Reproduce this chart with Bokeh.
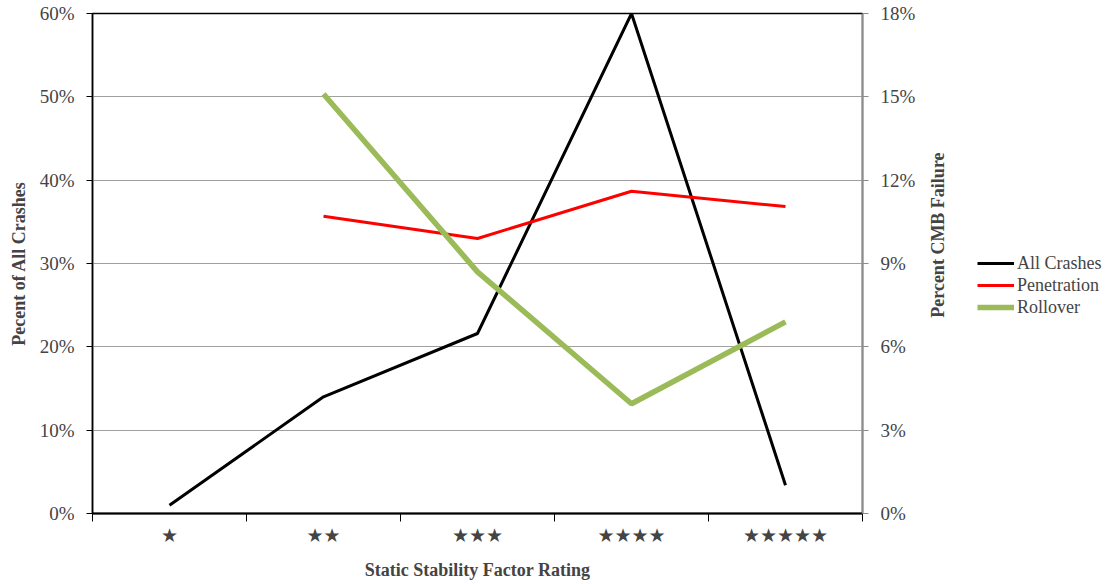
import math
import numpy as np
from bokeh.plotting import figure
from bokeh.layouts import row
from bokeh.models import (Range1d, LinearAxis, FixedTicker, PrintfTickFormatter,
                          Legend, LegendItem, Label)
from bokeh.embed import file_html
from bokeh.resources import INLINE

categories = ["★", "★★", "★★★", "★★★★", "★★★★★"]
all_crashes = [1.0, 14.0, 21.6, 60.0, 3.4]
penetration = [np.nan, 10.7, 9.9, 11.6, 11.05]
rollover = [np.nan, 15.1, 8.7, 3.95, 6.9]
left_ticks = [0, 10, 20, 30, 40, 50, 60]
right_ticks = [0, 3, 6, 9, 12, 15, 18]
series_names = ["All Crashes", "Penetration", "Rollover"]
series_colors = ["black", "#ff0000", "#9bbb59"]
series_widths = [3, 3, 5.5]

x = list(range(1, len(categories) + 1))
FONT = "Liberation Serif"

p = figure(output_backend="svg", toolbar_location=None,
           x_range=Range1d(0.5, len(categories) + 0.5), y_range=Range1d(0, 60),
           frame_width=770, frame_height=500,
           min_border_left=92, min_border_top=13, min_border_right=56, min_border_bottom=5)
p.extra_y_ranges = {"right": Range1d(0, 18)}
p.outline_line_color = "black"
p.outline_line_width = 1.5
p.background_fill_color = "white"
p.border_fill_color = "white"

# x axis
xa = p.xaxis[0]
xa.ticker = FixedTicker(ticks=x, minor_ticks=[i + 0.5 for i in range(0, len(categories) + 1)])
xa.major_label_overrides = {i + 1: c for i, c in enumerate(categories)}
xa.major_tick_line_color = None
xa.major_tick_out = 0
xa.major_tick_in = 0
xa.minor_tick_line_color = "black"
xa.minor_tick_out = 8
xa.minor_tick_in = 0
xa.minor_tick_line_width = 1
xa.axis_line_color = "black"
xa.axis_line_width = 2
xa.major_label_text_font = "DejaVu Sans"
xa.major_label_text_font_size = "19px"
xa.major_label_standoff = 2
xa.axis_label = "Static Stability Factor Rating"
xa.axis_label_text_font = FONT
xa.axis_label_text_font_style = "bold"
xa.axis_label_text_font_size = "18px"
xa.axis_label_standoff = 11

# left axis
ya = p.yaxis[0]
ya.ticker = FixedTicker(ticks=left_ticks)
ya.formatter = PrintfTickFormatter(format="%d%%")
ya.major_tick_out = 6
ya.major_tick_in = 0
ya.minor_tick_line_color = None
ya.axis_line_color = "black"
ya.axis_line_width = 1.5
ya.major_tick_line_color = "black"
ya.major_label_text_font = FONT
ya.major_label_text_font_size = "19px"
ya.major_label_standoff = 12
ya.axis_label = "Pecent of All Crashes"
ya.axis_label_text_font = FONT
ya.axis_label_text_font_style = "bold"
ya.axis_label_text_font_size = "18px"
ya.axis_label_standoff = 8

# right axis (its title is drawn in the side figure so it reads bottom-to-top)
ra = LinearAxis(y_range_name="right", ticker=FixedTicker(ticks=right_ticks),
                formatter=PrintfTickFormatter(format="%d%%"))
ra.major_tick_out = 6
ra.major_tick_in = 0
ra.minor_tick_line_color = None
ra.axis_line_color = "#8c8c8c"
ra.axis_line_width = 1.5
ra.major_tick_line_color = "#8c8c8c"
ra.major_label_text_font = FONT
ra.major_label_text_font_size = "19px"
ra.major_label_standoff = 12
p.add_layout(ra, "right")

p.xgrid.grid_line_color = None
p.ygrid.grid_line_color = "#a0a0a0"
p.ygrid.grid_line_width = 1.2
p.ygrid.ticker = FixedTicker(ticks=left_ticks)

p.line(x, all_crashes, line_color=series_colors[0], line_width=series_widths[0])
p.line(x, penetration, line_color=series_colors[1], line_width=series_widths[1], y_range_name="right")
p.line(x, rollover, line_color=series_colors[2], line_width=series_widths[2], y_range_name="right")

# side figure: right-axis title and legend
p2 = figure(width=201, height=568, output_backend="svg", toolbar_location=None,
            x_range=Range1d(0, 201), y_range=Range1d(0, 568),
            x_axis_location=None, y_axis_location=None,
            min_border_left=0, min_border_right=0, min_border_top=0, min_border_bottom=0)
p2.outline_line_color = None
p2.grid.visible = False
p2.background_fill_color = "white"
p2.border_fill_color = "white"
p2.extra_y_ranges = {"off": Range1d(1000, 1001)}

title_r = Label(x=19, y=309, text="Percent CMB Failure", angle=math.pi / 2,
                text_align="center", text_baseline="middle",
                text_font=FONT, text_font_style="bold", text_font_size="18px")
p2.add_layout(title_r)

leg_renderers = []
for ys, c, w in zip([all_crashes, penetration, rollover], series_colors, series_widths):
    leg_renderers.append(p2.line(x, ys, line_color=c, line_width=w, y_range_name="off"))

legend = Legend(items=[LegendItem(label=n, renderers=[r]) for n, r in zip(series_names, leg_renderers)],
                location=(59, 181), orientation="vertical",
                padding=0, margin=0, spacing=0,
                glyph_width=37, glyph_height=22, label_height=22,
                label_standoff=3, border_line_color=None,
                background_fill_alpha=0,
                label_text_font=FONT, label_text_font_size="18px")
p2.add_layout(legend, "center")

layout = row(p, p2)
open("out.html", "w").write(file_html(layout, INLINE))
